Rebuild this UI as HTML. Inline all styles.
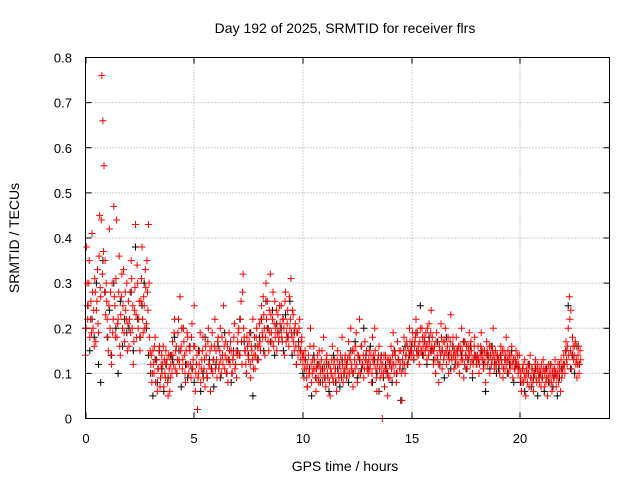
<!DOCTYPE html>
<html><head><meta charset="utf-8"><style>
body{margin:0;background:#fff;}
svg{display:block;font-family:"Liberation Sans",sans-serif;}
</style></head><body>
<svg id="chart" width="640" height="480" xmlns="http://www.w3.org/2000/svg">
<rect width="640" height="480" fill="#fff"/>
<text x="345" y="33" font-size="14" text-anchor="middle">Day 192 of 2025, SRMTID for receiver flrs</text>
<text transform="translate(19,238) rotate(-90)" font-size="14" text-anchor="middle">SRMTID / TECUs</text>
<text x="345" y="471" font-size="14" text-anchor="middle">GPS time / hours</text>
<g id="grid"></g>
<g id="ticks"></g>
<g id="black"></g>
<g id="red"></g>
<rect x="85.5" y="57.5" width="524" height="361" fill="none" stroke="#000"/>
</svg>
<script>
const xTicks=[0,5,10,15,20];
const yTicks=[0,0.1,0.2,0.3,0.4,0.5,0.6,0.7,0.8];
const yTickLabels=["0","0.1","0.2","0.3","0.4","0.5","0.6","0.7","0.8"];
const redStep=0.05;
const redValues=[
0.14,0.38,0.22,0.3,0.18,0.26,0.41,0.2,0.16,0.28,0.24,0.33,0.19,0.45,0.27,0.76,0.66,0.56,0.35,0.3,
0.22,0.15,0.42,0.28,0.12,0.19,0.47,0.25,0.31,0.18,0.22,0.36,0.14,0.27,0.2,0.33,0.17,0.24,0.3,0.21,
0.16,0.28,0.35,0.2,0.12,0.24,0.43,0.18,0.3,0.22,0.15,0.26,0.38,0.19,0.25,0.33,0.21,0.28,0.43,0.18,
0.12,0.08,0.15,0.1,0.18,0.13,0.06,0.11,0.16,0.09,0.14,0.12,0.07,0.1,0.15,0.13,0.05,0.11,0.09,0.14,
0.17,0.12,0.22,0.15,0.1,0.19,0.13,0.27,0.16,0.11,0.2,0.14,0.08,0.12,0.18,0.1,0.15,0.09,0.21,0.13,
0.25,0.06,0.12,0.02,0.1,0.15,0.08,0.13,0.18,0.11,0.07,0.14,0.09,0.2,0.12,0.06,0.16,0.1,0.13,0.22,
0.15,0.09,0.18,0.12,0.2,0.1,0.14,0.25,0.11,0.17,0.13,0.08,0.19,0.12,0.15,0.1,0.14,0.21,0.12,0.09,
0.17,0.2,0.14,0.26,0.12,0.32,0.18,0.15,0.1,0.16,0.13,0.19,0.09,0.15,0.22,0.14,0.11,0.18,0.16,0.13,
0.21,0.15,0.25,0.18,0.23,0.14,0.3,0.2,0.17,0.24,0.32,0.19,0.22,0.16,0.26,0.2,0.15,0.23,0.18,0.21,
0.25,0.17,0.22,0.14,0.28,0.19,0.24,0.16,0.2,0.31,0.18,0.23,0.15,0.21,0.12,0.19,0.16,0.22,0.13,0.18,
0.12,0.09,0.15,0.11,0.07,0.14,0.1,0.2,0.08,0.13,0.16,0.11,0.06,0.12,0.09,0.15,0.1,0.13,0.08,0.18,
0.11,0.07,0.14,0.09,0.12,0.05,0.1,0.16,0.08,0.13,0.11,0.06,0.15,0.09,0.12,0.1,0.18,0.08,0.11,0.14,
0.09,0.13,0.17,0.1,0.2,0.12,0.07,0.15,0.11,0.19,0.08,0.14,0.22,0.1,0.16,0.12,0.09,0.17,0.13,0.11,
0.1,0.15,0.12,0.08,0.18,0.14,0.2,0.11,0.06,0.13,0.16,0.09,0.12,0.0,0.1,0.07,0.14,0.11,0.05,0.13,
0.09,0.16,0.12,0.19,0.1,0.14,0.08,0.17,0.13,0.11,0.15,0.04,0.12,0.18,0.1,0.14,0.16,0.13,0.2,0.15,
0.15,0.19,0.13,0.17,0.22,0.14,0.16,0.12,0.2,0.15,0.18,0.14,0.17,0.19,0.13,0.16,0.21,0.15,0.24,0.18,
0.12,0.16,0.1,0.19,0.13,0.08,0.15,0.21,0.11,0.17,0.14,0.2,0.12,0.16,0.1,0.15,0.23,0.13,0.18,0.11,
0.14,0.18,0.12,0.16,0.1,0.15,0.2,0.13,0.09,0.17,0.14,0.11,0.16,0.19,0.12,0.15,0.1,0.13,0.18,0.14,
0.12,0.16,0.1,0.14,0.19,0.13,0.11,0.15,0.08,0.17,0.12,0.14,0.1,0.16,0.13,0.2,0.11,0.15,0.12,0.14,
0.13,0.1,0.16,0.12,0.09,0.15,0.11,0.18,0.13,0.1,0.14,0.12,0.16,0.09,0.13,0.11,0.15,0.12,0.1,0.14,
0.09,0.06,0.11,0.08,0.13,0.05,0.1,0.12,0.07,0.14,0.09,0.11,0.06,0.1,0.13,0.08,0.12,0.09,0.11,0.07,
0.1,0.13,0.07,0.11,0.09,0.05,0.12,0.08,0.1,0.06,0.11,0.09,0.13,0.07,0.1,0.08,0.12,0.06,0.09,0.11,
0.14,0.1,0.17,0.12,0.2,0.27,0.15,0.11,0.18,0.13,0.16,0.12,0.09,0.14,0.1,0.15];
const redValuesB=[
0.2,0.3,0.25,0.35,0.22,0.19,0.28,0.24,0.31,0.17,0.26,0.21,0.36,0.29,0.44,0.32,0.37,0.28,0.23,0.26,
0.18,0.25,0.2,0.14,0.3,0.22,0.27,0.18,0.44,0.21,0.28,0.16,0.23,0.32,0.25,0.19,0.28,0.22,0.15,0.26,
0.22,0.19,0.31,0.25,0.17,0.29,0.23,0.34,0.2,0.26,0.18,0.31,0.22,0.27,0.2,0.29,0.35,0.24,0.3,0.15,
0.14,0.1,0.12,0.16,0.08,0.13,0.11,0.15,0.07,0.12,0.1,0.16,0.13,0.09,0.12,0.08,0.14,0.06,0.12,0.1,
0.14,0.19,0.11,0.16,0.13,0.22,0.12,0.15,0.2,0.13,0.17,0.1,0.15,0.19,0.12,0.16,0.12,0.18,0.11,0.16,
0.16,0.1,0.14,0.09,0.12,0.19,0.11,0.15,0.09,0.13,0.16,0.1,0.17,0.12,0.15,0.11,0.19,0.13,0.16,0.11,
0.13,0.17,0.11,0.15,0.13,0.18,0.12,0.16,0.14,0.1,0.16,0.13,0.15,0.17,0.1,0.13,0.18,0.11,0.15,0.14,
0.19,0.14,0.22,0.17,0.28,0.2,0.15,0.12,0.18,0.14,0.17,0.12,0.16,0.13,0.11,0.18,0.14,0.2,0.13,0.16,
0.17,0.22,0.19,0.27,0.2,0.18,0.22,0.26,0.15,0.19,0.23,0.17,0.28,0.21,0.18,0.24,0.19,0.17,0.25,0.2,
0.18,0.22,0.2,0.26,0.17,0.21,0.18,0.27,0.22,0.19,0.24,0.17,0.2,0.16,0.19,0.14,0.2,0.15,0.17,0.14,
0.14,0.11,0.13,0.09,0.12,0.1,0.16,0.12,0.1,0.11,0.13,0.09,0.11,0.14,0.08,0.12,0.11,0.15,0.1,0.12,
0.09,0.13,0.1,0.12,0.08,0.11,0.13,0.09,0.12,0.1,0.08,0.13,0.1,0.12,0.14,0.09,0.12,0.1,0.13,0.11,
0.12,0.1,0.14,0.13,0.11,0.15,0.1,0.13,0.16,0.12,0.14,0.1,0.13,0.16,0.12,0.14,0.11,0.13,0.15,0.12,
0.13,0.11,0.14,0.1,0.13,0.12,0.15,0.09,0.12,0.14,0.11,0.13,0.1,0.12,0.14,0.11,0.1,0.13,0.09,0.12,
0.13,0.11,0.14,0.12,0.15,0.12,0.1,0.13,0.15,0.12,0.1,0.13,0.15,0.12,0.14,0.17,0.12,0.15,0.17,0.14,
0.17,0.14,0.16,0.18,0.15,0.19,0.14,0.17,0.15,0.2,0.16,0.18,0.15,0.16,0.2,0.14,0.17,0.19,0.16,0.15,
0.15,0.13,0.17,0.14,0.12,0.16,0.14,0.18,0.15,0.13,0.17,0.15,0.14,0.18,0.13,0.17,0.14,0.16,0.14,0.15,
0.13,0.15,0.14,0.12,0.16,0.13,0.15,0.17,0.12,0.14,0.16,0.13,0.15,0.14,0.17,0.13,0.12,0.16,0.14,0.12,
0.14,0.13,0.12,0.16,0.14,0.15,0.13,0.12,0.14,0.15,0.13,0.16,0.14,0.12,0.15,0.14,0.13,0.12,0.14,0.13,
0.12,0.14,0.13,0.15,0.11,0.13,0.14,0.12,0.15,0.13,0.11,0.14,0.12,0.13,0.11,0.13,0.12,0.14,0.12,0.11,
0.1,0.08,0.12,0.1,0.09,0.11,0.08,0.1,0.12,0.09,0.11,0.08,0.1,0.12,0.09,0.11,0.1,0.08,0.1,0.12,
0.09,0.11,0.1,0.08,0.11,0.09,0.1,0.12,0.08,0.1,0.09,0.11,0.1,0.09,0.12,0.1,0.11,0.13,0.1,0.12,
0.12,0.15,0.13,0.16,0.14,0.22,0.24,0.14,0.16,0.14,0.17,0.13,0.12,0.16,0.12,0.13];
const blackStep=0.1;
const blackValues=[
0.2,0.25,0.15,0.22,0.18,0.3,0.12,0.08,0.35,0.28,
0.18,0.24,0.14,0.3,0.2,0.1,0.26,0.16,0.22,0.19,
0.2,0.28,0.15,0.38,0.22,0.18,0.25,0.3,0.2,0.14,
0.1,0.05,0.13,0.08,0.15,0.11,0.06,0.12,0.09,0.14,
0.13,0.18,0.1,0.15,0.07,0.2,0.12,0.09,0.16,0.11,
0.08,0.12,0.15,0.06,0.1,0.18,0.09,0.13,0.11,0.07,
0.12,0.16,0.09,0.14,0.19,0.1,0.13,0.08,0.15,0.12,
0.15,0.22,0.12,0.17,0.1,0.14,0.19,0.05,0.16,0.13,
0.18,0.22,0.15,0.26,0.2,0.17,0.24,0.14,0.21,0.19,
0.2,0.15,0.23,0.18,0.26,0.14,0.19,0.12,0.17,0.15,
0.1,0.13,0.07,0.11,0.05,0.14,0.09,0.12,0.08,0.11,
0.09,0.12,0.06,0.1,0.14,0.08,0.11,0.07,0.13,0.1,
0.12,0.08,0.15,0.1,0.17,0.09,0.13,0.11,0.2,0.14,
0.11,0.16,0.08,0.13,0.1,0.06,0.14,0.09,0.12,0.1,
0.12,0.08,0.15,0.1,0.13,0.04,0.11,0.16,0.12,0.14,
0.16,0.13,0.19,0.15,0.25,0.14,0.17,0.12,0.18,0.15,
0.13,0.1,0.17,0.12,0.15,0.09,0.18,0.14,0.11,0.16,
0.12,0.15,0.1,0.14,0.17,0.11,0.13,0.16,0.09,0.14,
0.13,0.1,0.15,0.12,0.06,0.14,0.11,0.16,0.12,0.1,
0.11,0.14,0.09,0.13,0.1,0.12,0.15,0.08,0.12,0.11,
0.08,0.11,0.06,0.1,0.12,0.07,0.09,0.11,0.05,0.1,
0.09,0.06,0.11,0.08,0.12,0.07,0.1,0.05,0.09,0.11,
0.12,0.15,0.25,0.11,0.14,0.1,0.16,0.12];

const NS="http://www.w3.org/2000/svg";
const X0=85.5,X1=609.5,Y0=418.5,Y1=57.5,XMAX=24.1,YMAX=0.8;
function xs(v){return X0+(X1-X0)*v/XMAX;}
function ys(v){return Y0-(Y0-Y1)*v/YMAX;}
function mk(tag,attrs,parent){const e=document.createElementNS(NS,tag);for(const k in attrs)e.setAttribute(k,attrs[k]);parent.appendChild(e);return e;}
const grid=document.getElementById('grid'),ticks=document.getElementById('ticks');
xTicks.forEach((t,i)=>{
  const x=Math.round(xs(t))+0.5-0.5;
  if(t>0){const g=mk('line',{x1:x,x2:x,y1:Y1,y2:Y0,stroke:'#a0a0a0','stroke-dasharray':'1,2'},grid);
  
  }
  mk('line',{x1:x,x2:x,y1:Y0,y2:Y0-6,stroke:'#000'},ticks);
  mk('line',{x1:x,x2:x,y1:Y1,y2:Y1+6,stroke:'#000'},ticks);
  const l=mk('text',{x:x,y:443,'font-size':13,'text-anchor':'middle'},ticks);
  l.textContent=String(t);
  
  
});
yTicks.forEach((t,i)=>{
  const y=ys(t);
  if(t>0){const g=mk('line',{x1:X0,x2:X1,y1:y,y2:y,stroke:'#a0a0a0','stroke-dasharray':'1,2'},grid);
  
  }
  mk('line',{x1:X0,x2:X0+6,y1:y,y2:y,stroke:'#000'},ticks);
  mk('line',{x1:X1,x2:X1-6,y1:y,y2:y,stroke:'#000'},ticks);
  const l=mk('text',{x:72,y:y+5,'font-size':13,'text-anchor':'end'},ticks);
  l.textContent=yTickLabels[i];
  
  
});
function draw(vals,step,offset,color,gid,name){
  const g=document.getElementById(gid);let d='';
  vals.forEach((v,i)=>{const x=xs(offset+i*step),y=ys(v);
    d+=`M${(x-3.5).toFixed(1)} ${y.toFixed(1)}h7M${x.toFixed(1)} ${(y-3.5).toFixed(1)}v7`;});
  const p=mk('path',{d:d,stroke:color,'stroke-width':1,fill:'none'},g);
  
  
}
draw(blackValues,blackStep,0,'#000','black','black-points');
draw(redValues,redStep,0,'#ff0000','red','red-points');
draw(redValuesB,redStep,0.025,'#ff0000','red','red-points-b');
</script>
</body></html>
